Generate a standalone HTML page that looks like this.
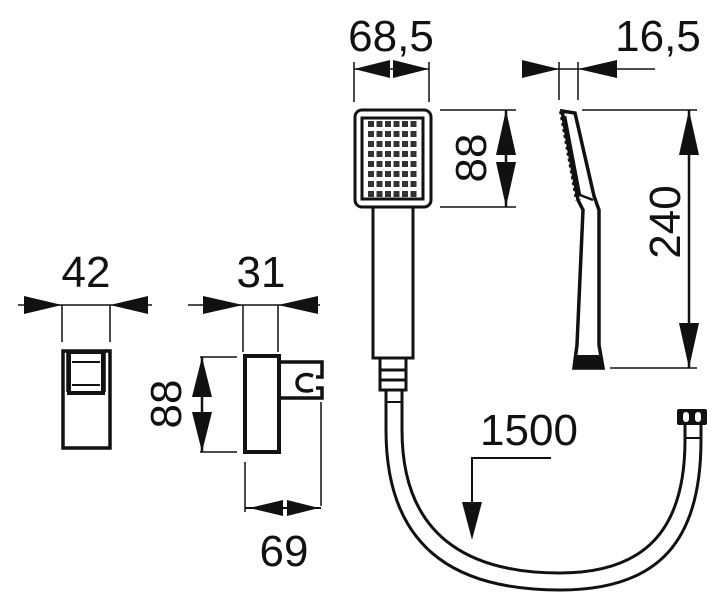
<!DOCTYPE html>
<html><head><meta charset="utf-8"><style>
html,body{margin:0;padding:0;background:#fff;}
svg{display:block;}
text{font-family:"Liberation Sans",sans-serif;fill:#111;}
</style></head><body>
<svg width="718" height="600" viewBox="0 0 718 600" xmlns="http://www.w3.org/2000/svg">
<g stroke="#111" fill="none">
<!-- 68,5 -->
<line x1="354" y1="62" x2="354" y2="102" stroke-width="1.5"/>
<line x1="429" y1="62" x2="429" y2="102" stroke-width="1.5"/>
<line x1="354" y1="69" x2="429" y2="69" stroke-width="1.5"/>
<path d="M354 69L390 60L390 78z M429 69L393 60L393 78z" fill="#111" stroke="none"/>
<!-- 16,5 -->
<line x1="559" y1="62" x2="559" y2="100" stroke-width="1.5"/>
<line x1="578" y1="62" x2="578" y2="100" stroke-width="1.5"/>
<line x1="522" y1="69" x2="655" y2="69" stroke-width="1.5"/>
<path d="M559 69L522 60L522 78z M578 69L617 60L617 78z" fill="#111" stroke="none"/>
<!-- head -->
<rect x="355" y="110" width="76" height="97" rx="7" stroke-width="3"/>
<rect x="362" y="118" width="61" height="81" stroke-width="3"/>
<path d="M368 124h50M368 134h50M368 144h50M368 154h50M368 164h50M368 174h50M368 184h50M368 194h50" stroke-dasharray="6 2.5" stroke-width="6" stroke="#333"/>
<!-- handle -->
<rect x="373" y="207" width="40" height="151" stroke-width="3"/>
<path d="M380 358h26v32h-26z M380 370h26 M380 380h26" stroke-width="3"/>
<!-- 88 right -->
<line x1="440" y1="110" x2="516" y2="110" stroke-width="1.5"/>
<line x1="440" y1="207" x2="516" y2="207" stroke-width="1.5"/>
<line x1="506" y1="110" x2="506" y2="207" stroke-width="2.5"/>
<path d="M506 110L496 155L516 155z M506 207L496 162L516 162z" fill="#111" stroke="none"/>
<!-- side profile -->
<path d="M562 111L575 113L594 196L599 210L599 345L603 368L574 368L577 345L583 210L578 200Z" stroke-width="3.5" fill="#fff"/>
<path d="M565 116L580 195L593 200" stroke-width="2.5"/>
<path d="M562 111L578 200" stroke-width="6" stroke-dasharray="3 3"/>
<path d="M576 355h26v13h-26z" fill="#111" stroke="none"/>
<!-- 240 -->
<line x1="582" y1="110" x2="697" y2="110" stroke-width="1.5"/>
<line x1="610" y1="368" x2="697" y2="368" stroke-width="1.5"/>
<line x1="689" y1="110" x2="689" y2="368" stroke-width="2.5"/>
<path d="M689 110L679 155L699 155z M689 368L679 323L699 323z" fill="#111" stroke="none"/>
<!-- hose -->
<path d="M386 390 L386 430 C386 560 470 590 560 590 C660 590 701 540 701 440 L701 425" stroke-width="3"/>
<path d="M402 390 L402 430 C402 545 480 573 560 573 C645 573 685 530 685 440 L685 425" stroke-width="3"/>
<line x1="386" y1="402" x2="402" y2="402" stroke-width="2"/>
<line x1="685" y1="438" x2="701" y2="438" stroke-width="2"/>
<rect x="677" y="409" width="30" height="16" rx="2" fill="#111" stroke="none"/>
<rect x="683" y="412" width="6" height="10" rx="3" fill="#fff" stroke="none"/>
<rect x="695" y="412" width="6" height="10" rx="3" fill="#fff" stroke="none"/>
<!-- 1500 leader -->
<path d="M551 458H472V530" stroke-width="2"/>
<path d="M472 540L462 502L482 502z" fill="#111" stroke="none"/>
<!-- 42 -->
<line x1="18" y1="305" x2="152" y2="305" stroke-width="1.5"/>
<line x1="62" y1="305" x2="62" y2="342" stroke-width="1.5"/>
<line x1="110" y1="305" x2="110" y2="342" stroke-width="1.5"/>
<path d="M62 305L24 296L24 314z M110 305L148 296L148 314z" fill="#111" stroke="none"/>
<rect x="63" y="351" width="47" height="97" stroke-width="3.5"/>
<rect x="69" y="352" width="34" height="41" stroke-width="4"/>
<path d="M72 362h28M72 385h28" stroke-width="2"/>
<path d="M67 352v40M105 352v40" stroke-width="1.5"/>
<!-- 31 -->
<line x1="188" y1="305" x2="320" y2="305" stroke-width="1.5"/>
<line x1="243" y1="305" x2="243" y2="352" stroke-width="1.5"/>
<line x1="278" y1="305" x2="278" y2="352" stroke-width="1.5"/>
<path d="M243 305L203 296L203 314z M278 305L318 296L318 314z" fill="#111" stroke="none"/>
<rect x="245" y="356" width="34" height="96" stroke-width="4"/>
<path d="M280 362H322V377H316 M316 388H322V398H280" stroke-width="3.5"/>
<path d="M313 376C303 372 297 377 297 383C297 389 303 393 313 390" stroke-width="3.5"/>
<!-- 88 left -->
<line x1="200" y1="357" x2="237" y2="357" stroke-width="1.5"/>
<line x1="200" y1="452" x2="237" y2="452" stroke-width="1.5"/>
<line x1="202" y1="357" x2="202" y2="452" stroke-width="2.5"/>
<path d="M202 357L192 397L212 397z M202 452L192 412L212 412z" fill="#111" stroke="none"/>
<!-- 69 -->
<line x1="245" y1="462" x2="245" y2="512" stroke-width="1.5"/>
<line x1="321" y1="402" x2="321" y2="506" stroke-width="1.5"/>
<line x1="245" y1="508" x2="321" y2="508" stroke-width="2"/>
<path d="M249 508L283 500L283 516z M319 508L287 500L287 516z" fill="#111" stroke="none"/>
</g>
<text x="391" y="51" font-size="44" text-anchor="middle">68,5</text>
<text x="658" y="51" font-size="44" text-anchor="middle">16,5</text>
<text x="86" y="287" font-size="44" text-anchor="middle">42</text>
<text x="261" y="287" font-size="44" text-anchor="middle">31</text>
<text x="284" y="566" font-size="44" text-anchor="middle">69</text>
<text x="529" y="445" font-size="44" text-anchor="middle">1500</text>
<text transform="translate(486,158) rotate(-90)" font-size="44" text-anchor="middle">88</text>
<text transform="translate(181,404) rotate(-90)" font-size="44" text-anchor="middle">88</text>
<text transform="translate(680,222) rotate(-90)" font-size="44" text-anchor="middle">240</text>
</svg>
</body></html>
